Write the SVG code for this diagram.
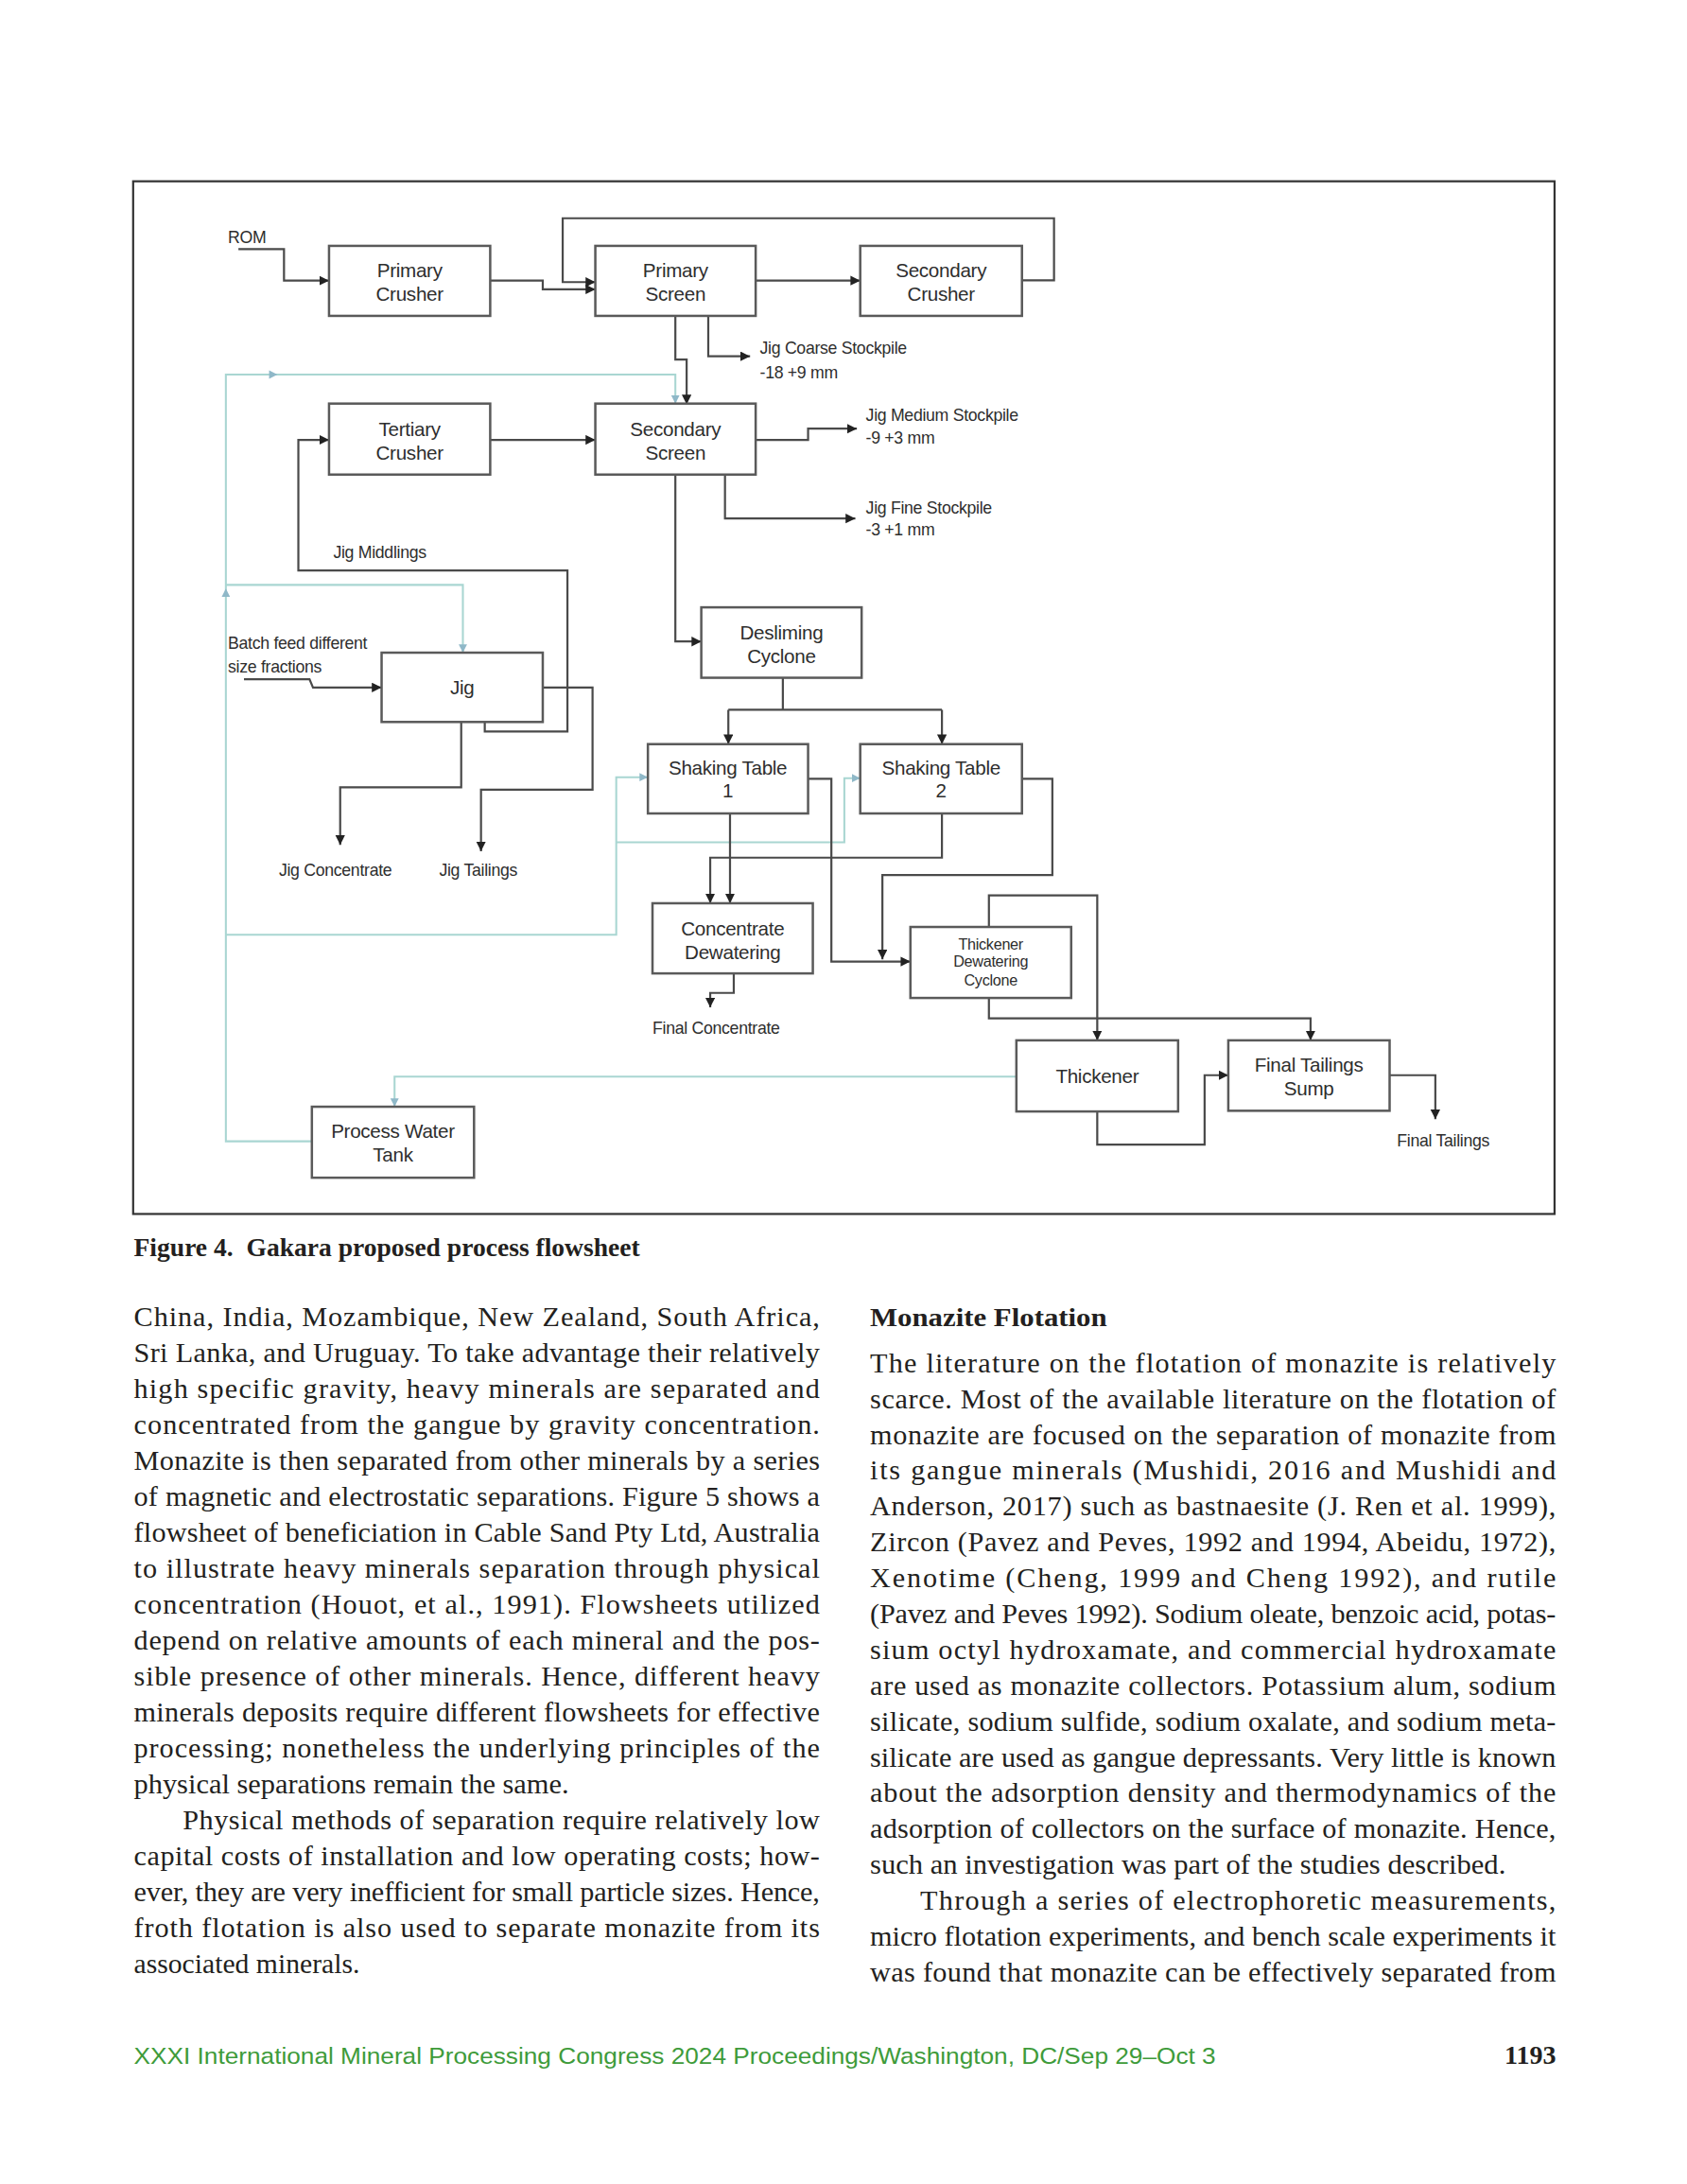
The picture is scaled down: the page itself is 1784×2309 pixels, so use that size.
<svg xmlns="http://www.w3.org/2000/svg" width="1784" height="2309" viewBox="0 0 1784 2309">
<style>
.box{fill:#fff;stroke:#5a5a5a;stroke-width:1.7}
.bl{font-family:"Liberation Sans",Arial,sans-serif;font-size:14px;fill:#2e2e2e;text-anchor:middle;letter-spacing:-0.2px}
.sm{font-family:"Liberation Sans",Arial,sans-serif;font-size:11px;fill:#2e2e2e;text-anchor:middle;letter-spacing:-0.2px}
.lb{font-family:"Liberation Sans",Arial,sans-serif;font-size:12px;fill:#2e2e2e;letter-spacing:-0.2px}
.ln{fill:none;stroke:#4a4a4a;stroke-width:1.5;marker-end:url(#ah)}
.ln0{fill:none;stroke:#4a4a4a;stroke-width:1.5}
.wl{fill:none;stroke:#a9d6d2;stroke-width:1.4;marker-end:url(#aw)}
.body{font-family:"Liberation Serif","Times New Roman",serif;font-size:20.5px;fill:#231f20}
.cap{font-family:"Liberation Serif","Times New Roman",serif;font-size:19px;font-weight:bold;fill:#231f20}
.foot{font-family:"Liberation Sans",Arial,sans-serif;font-size:16px;fill:#3e9b3a}
</style>
<defs>
<marker id="ah" markerUnits="userSpaceOnUse" markerWidth="8" markerHeight="8" refX="7" refY="3.5" orient="auto"><path d="M0,0 L7,3.5 L0,7 z" fill="#222"/></marker>
<marker id="aw" markerUnits="userSpaceOnUse" markerWidth="8" markerHeight="8" refX="6" refY="3" orient="auto"><path d="M0,0 L6,3 L0,6 z" fill="#8fb8c8"/></marker>
</defs>
<rect width="1784" height="2309" fill="#fff"/>
<g transform="scale(1.47438)">
<rect id="frame" x="95.5" y="130" width="1019.5" height="740.5" fill="none" stroke="#333" stroke-width="1.5"/>

<g id="connectors">
<path class="wl" d="M224,818.4 H162 V268.6 H484.4 V289.4"/>
<path class="wl" d="M162,419.4 H332 V468"/>
<path class="wl" d="M162,670.3 H442 V557.3 H464.7"/>
<path class="wl" d="M442,604 H605.6 V558 H617"/>
<path class="wl" d="M729,772 H283 V793.6"/>
<path d="M193,265.5 L199,268.6 L193,271.7 z" fill="#8fb8c8"/>
<path d="M159,428 L162,422 L165,428 z" fill="#8fb8c8"/>

<path class="ln" d="M171,178.6 H203.7 V201.2 H236"/>
<path class="ln" d="M351.6,201.2 H389.3 V207.5 H427"/>
<path class="ln" d="M733,201 H756 V156.5 H403.6 V202.3 H427"/>
<path class="ln" d="M542,201.2 H617"/>
<path class="ln" d="M484.4,226.5 V257.8 H492.5 V290"/>
<path class="ln" d="M508,226.5 V255.5 H538"/>
<path class="ln" d="M351.6,315.4 H427"/>
<path class="ln" d="M542,315.4 H579.6 V307.4 H614.6"/>
<path class="ln" d="M520,340.3 V371.8 H613.5"/>
<path class="ln" d="M484.4,340.3 V460 H503"/>
<path class="ln0" d="M561.5,486 V509 M522.4,509 H675.6"/>
<path class="ln" d="M522.4,509 V533.6"/>
<path class="ln" d="M675.6,509 V533.6"/>
<path class="ln" d="M347.7,517.7 V524.5 H407 V409 H214 V315.4 H236"/>
<path class="ln" d="M175,487 H222 L224.5,493 H273.7"/>
<path class="ln" d="M389.3,493 H425 V566.3 H345 V610.4"/>
<path class="ln" d="M330.8,517.7 V564.6 H244 V605.8"/>
<path class="ln" d="M523.6,583.3 V647.7"/>
<path class="ln" d="M675.6,583.3 V615 H509.4 V647.7"/>
<path class="ln" d="M579.6,558.5 H596.3 V689.5 H653"/>
<path class="ln" d="M733,558.5 H754.8 V627.4 H632.9 V688"/>
<path class="ln" d="M526.3,698 V712 H509.4 V722.4"/>
<path class="ln" d="M709.3,664.7 V642 H787 V746"/>
<path class="ln" d="M709.3,715.6 V730.2 H940 V746"/>
<path class="ln" d="M787,797 V820.7 H864 V771 H881"/>
<path class="ln" d="M996.7,771 H1029.5 V802.6"/>
</g>

<g id="labels">
<text class="lb" x="163.5" y="174">ROM</text>
<text class="lb" x="545" y="254">Jig Coarse Stockpile</text>
<text class="lb" x="545" y="271">-18 +9 mm</text>
<text class="lb" x="621" y="302">Jig Medium Stockpile</text>
<text class="lb" x="621" y="318">-9 +3 mm</text>
<text class="lb" x="621" y="368">Jig Fine Stockpile</text>
<text class="lb" x="621" y="384">-3 +1 mm</text>
<text class="lb" x="239" y="400">Jig Middlings</text>
<text class="lb" x="163.5" y="465" font-size="11.5">Batch feed different</text>
<text class="lb" x="163.5" y="482" font-size="11.5">size fractions</text>
<text class="lb" x="200" y="628">Jig Concentrate</text>
<text class="lb" x="315" y="628">Jig Tailings</text>
<text class="lb" x="468" y="741">Final Concentrate</text>
<text class="lb" x="1002" y="822">Final Tailings</text>
</g>

<g id="primary-crusher"><rect class="box" x="236" y="176.3" width="115.6" height="50.2"/><text class="bl" x="293.8" y="198.5">Primary</text><text class="bl" x="293.8" y="215.5">Crusher</text></g>
<g id="primary-screen"><rect class="box" x="427" y="176.3" width="115" height="50.2"/><text class="bl" x="484.5" y="198.5">Primary</text><text class="bl" x="484.5" y="215.5">Screen</text></g>
<g id="secondary-crusher"><rect class="box" x="617" y="176.3" width="116" height="50.2"/><text class="bl" x="675" y="198.5">Secondary</text><text class="bl" x="675" y="215.5">Crusher</text></g>
<g id="tertiary-crusher"><rect class="box" x="236" y="289.4" width="115.6" height="50.9"/><text class="bl" x="293.8" y="312.5">Tertiary</text><text class="bl" x="293.8" y="329.5">Crusher</text></g>
<g id="secondary-screen"><rect class="box" x="427" y="289.4" width="115" height="50.9"/><text class="bl" x="484.5" y="312.5">Secondary</text><text class="bl" x="484.5" y="329.5">Screen</text></g>
<g id="desliming-cyclone"><rect class="box" x="503" y="435.5" width="115" height="50.5"/><text class="bl" x="560.5" y="458.5">Desliming</text><text class="bl" x="560.5" y="475.5">Cyclone</text></g>
<g id="jig"><rect class="box" x="273.7" y="468" width="115.6" height="49.7"/><text class="bl" x="331.5" y="498">Jig</text></g>
<g id="shaking-table-1"><rect class="box" x="464.7" y="533.6" width="114.9" height="49.7"/><text class="bl" x="522" y="555.5">Shaking Table</text><text class="bl" x="522" y="572">1</text></g>
<g id="shaking-table-2"><rect class="box" x="617" y="533.6" width="116" height="49.7"/><text class="bl" x="675" y="555.5">Shaking Table</text><text class="bl" x="675" y="572">2</text></g>
<g id="concentrate-dewatering"><rect class="box" x="468" y="647.7" width="115" height="50.3"/><text class="bl" x="525.5" y="670.5">Concentrate</text><text class="bl" x="525.5" y="687.5">Dewatering</text></g>
<g id="thickener-dewatering-cyclone"><rect class="box" x="653" y="664.7" width="115.3" height="50.9"/><text class="sm" x="710.6" y="680.7">Thickener</text><text class="sm" x="710.6" y="693.5">Dewatering</text><text class="sm" x="710.6" y="707">Cyclone</text></g>
<g id="thickener"><rect class="box" x="729" y="746" width="116" height="51"/><text class="bl" x="787" y="776.5">Thickener</text></g>
<g id="final-tailings-sump"><rect class="box" x="881" y="746" width="115.7" height="50.5"/><text class="bl" x="938.8" y="768.5">Final Tailings</text><text class="bl" x="938.8" y="785.5">Sump</text></g>
<g id="process-water-tank"><rect class="box" x="223.7" y="793.6" width="116.3" height="50.9"/><text class="bl" x="281.8" y="816">Process Water</text><text class="bl" x="281.8" y="833">Tank</text></g>

<g id="page-text">
<text class="cap" x="96" y="901" textLength="363" lengthAdjust="spacingAndGlyphs">Figure 4.&#160; Gakara proposed process flowsheet</text>

<text class="body" x="96" y="951" textLength="492" lengthAdjust="spacing">China, India, Mozambique, New Zealand, South Africa,</text>
<text class="body" x="96" y="976.8" textLength="492" lengthAdjust="spacing">Sri Lanka, and Uruguay. To take advantage their relatively</text>
<text class="body" x="96" y="1002.6" textLength="492" lengthAdjust="spacing">high specific gravity, heavy minerals are separated and</text>
<text class="body" x="96" y="1028.3" textLength="492" lengthAdjust="spacing">concentrated from the gangue by gravity concentration.</text>
<text class="body" x="96" y="1054.1" textLength="492" lengthAdjust="spacing">Monazite is then separated from other minerals by a series</text>
<text class="body" x="96" y="1079.9" textLength="492" lengthAdjust="spacing">of magnetic and electrostatic separations. Figure 5 shows a</text>
<text class="body" x="96" y="1105.7" textLength="492" lengthAdjust="spacing">flowsheet of beneficiation in Cable Sand Pty Ltd, Australia</text>
<text class="body" x="96" y="1131.5" textLength="492" lengthAdjust="spacing">to illustrate heavy minerals separation through physical</text>
<text class="body" x="96" y="1157.2" textLength="492" lengthAdjust="spacing">concentration (Houot, et al., 1991). Flowsheets utilized</text>
<text class="body" x="96" y="1183" textLength="492" lengthAdjust="spacing">depend on relative amounts of each mineral and the pos-</text>
<text class="body" x="96" y="1208.8" textLength="492" lengthAdjust="spacing">sible presence of other minerals. Hence, different heavy</text>
<text class="body" x="96" y="1234.6" textLength="492" lengthAdjust="spacing">minerals deposits require different flowsheets for effective</text>
<text class="body" x="96" y="1260.4" textLength="492" lengthAdjust="spacing">processing; nonetheless the underlying principles of the</text>
<text class="body" x="96" y="1286.1" textLength="312" lengthAdjust="spacingAndGlyphs">physical separations remain the same.</text>
<text class="body" x="131" y="1311.9" textLength="457" lengthAdjust="spacing">Physical methods of separation require relatively low</text>
<text class="body" x="96" y="1337.7" textLength="492" lengthAdjust="spacing">capital costs of installation and low operating costs; how-</text>
<text class="body" x="96" y="1363.5" textLength="492" lengthAdjust="spacing">ever, they are very inefficient for small particle sizes. Hence,</text>
<text class="body" x="96" y="1389.3" textLength="492" lengthAdjust="spacing">froth flotation is also used to separate monazite from its</text>
<text class="body" x="96" y="1415" textLength="162" lengthAdjust="spacingAndGlyphs">associated minerals.</text>

<text class="cap" x="624" y="951" font-size="20" textLength="170" lengthAdjust="spacingAndGlyphs">Monazite Flotation</text>
<text class="body" x="624" y="984" textLength="492" lengthAdjust="spacing">The literature on the flotation of monazite is relatively</text>
<text class="body" x="624" y="1009.7" textLength="492" lengthAdjust="spacing">scarce. Most of the available literature on the flotation of</text>
<text class="body" x="624" y="1035.4" textLength="492" lengthAdjust="spacing">monazite are focused on the separation of monazite from</text>
<text class="body" x="624" y="1061.1" textLength="492" lengthAdjust="spacing">its gangue minerals (Mushidi, 2016 and Mushidi and</text>
<text class="body" x="624" y="1086.8" textLength="492" lengthAdjust="spacing">Anderson, 2017) such as bastnaesite (J. Ren et al. 1999),</text>
<text class="body" x="624" y="1112.5" textLength="492" lengthAdjust="spacing">Zircon (Pavez and Peves, 1992 and 1994, Abeidu, 1972),</text>
<text class="body" x="624" y="1138.2" textLength="492" lengthAdjust="spacing">Xenotime (Cheng, 1999 and Cheng 1992), and rutile</text>
<text class="body" x="624" y="1163.9" textLength="492" lengthAdjust="spacing">(Pavez and Peves 1992). Sodium oleate, benzoic acid, potas-</text>
<text class="body" x="624" y="1189.6" textLength="492" lengthAdjust="spacing">sium octyl hydroxamate, and commercial hydroxamate</text>
<text class="body" x="624" y="1215.3" textLength="492" lengthAdjust="spacing">are used as monazite collectors. Potassium alum, sodium</text>
<text class="body" x="624" y="1241" textLength="492" lengthAdjust="spacing">silicate, sodium sulfide, sodium oxalate, and sodium meta-</text>
<text class="body" x="624" y="1266.7" textLength="492" lengthAdjust="spacing">silicate are used as gangue depressants. Very little is known</text>
<text class="body" x="624" y="1292.4" textLength="492" lengthAdjust="spacing">about the adsorption density and thermodynamics of the</text>
<text class="body" x="624" y="1318.1" textLength="492" lengthAdjust="spacing">adsorption of collectors on the surface of monazite. Hence,</text>
<text class="body" x="624" y="1343.8" textLength="456" lengthAdjust="spacingAndGlyphs">such an investigation was part of the studies described.</text>
<text class="body" x="660" y="1369.5" textLength="456" lengthAdjust="spacing">Through a series of electrophoretic measurements,</text>
<text class="body" x="624" y="1395.2" textLength="492" lengthAdjust="spacing">micro flotation experiments, and bench scale experiments it</text>
<text class="body" x="624" y="1420.9" textLength="492" lengthAdjust="spacing">was found that monazite can be effectively separated from</text>

<text class="foot" x="96" y="1480" textLength="776" lengthAdjust="spacingAndGlyphs">XXXI International Mineral Processing Congress 2024 Proceedings/Washington, DC/Sep 29–Oct 3</text>
<text class="cap" x="1116" y="1480" font-size="18" text-anchor="end">1193</text>
</g>
</g>
</svg>
